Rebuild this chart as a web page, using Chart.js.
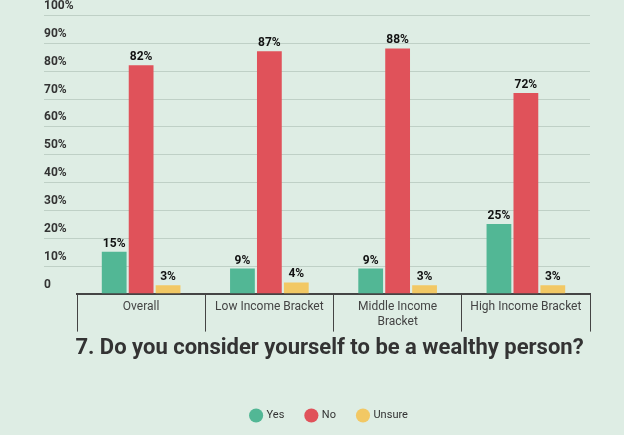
<!DOCTYPE html>
<html><head><meta charset="utf-8">
<script src="https://cdn.jsdelivr.net/npm/chart.js@4"></script>
<style>html,body{margin:0;padding:0;background:#deede4;}#w{width:624px;height:435px;}</style>
</head><body><div id="w"><canvas id="c"></canvas></div>
<script>
const categories = ["Overall", "Low Income Bracket", ["Middle Income", "Bracket"], "High Income Bracket"];
const yesValues = [15, 9, 9, 25];
const noValues = [82, 87, 88, 72];
const unsureValues = [3, 4, 3, 3];
const yTicks = [0,10,20,30,40,50,60,70,80,90,100];

const bgPlugin = {
  id:'bg',
  beforeDraw(chart){
    const {ctx, chartArea:a, scales:{y}} = chart;
    ctx.save();
    ctx.fillStyle='#deede4'; ctx.fillRect(0,0,chart.width,chart.height);
    ctx.font='bold 12px Roboto'; ctx.fillStyle='#333'; ctx.textBaseline='bottom'; ctx.textAlign='left';
    yTicks.forEach(v=>{
      const py=Math.round(y.getPixelForValue(v))+0.5;
      if(v>0){ctx.strokeStyle='#bfd0c6'; ctx.lineWidth=1; ctx.beginPath(); ctx.moveTo(44,py); ctx.lineTo(a.right,py); ctx.stroke();}
      ctx.fillText(v===0?'0':v+'%',44,py-4);
    });
    ctx.restore();
  },
  afterDatasetsDraw(chart){
    const {ctx, chartArea:a, scales:{x}}=chart;
    ctx.save(); ctx.font='bold 12px Roboto'; ctx.fillStyle='#111'; ctx.textAlign='center'; ctx.textBaseline='bottom';
    chart.data.datasets.forEach((ds,i)=>{
      chart.getDatasetMeta(i).data.forEach((bar,j)=>{ ctx.fillText(ds.data[j]+'%', bar.x, bar.y-2); });
    });
    ctx.font='12px Roboto'; ctx.fillStyle='#444'; ctx.textBaseline='top';
    categories.forEach((c,j)=>{
      const px=x.getPixelForValue(j);
      const lines=Array.isArray(c)?c:[c];
      lines.forEach((l,k)=>ctx.fillText(l,px,a.bottom+7+k*15));
    });
    ctx.restore();
  }
};

new Chart(document.getElementById('c'),{
  type:'bar',
  data:{labels:categories,datasets:[
    {label:'Yes',data:yesValues,backgroundColor:'#52b795'},
    {label:'No',data:noValues,backgroundColor:'#e0525a'},
    {label:'Unsure',data:unsureValues,backgroundColor:'#f2c864'}
  ]},
  options:{
    responsive:true, maintainAspectRatio:false, animation:false,
    layout:{padding:{left:69,right:34,top:15,bottom:4}},
    datasets:{bar:{categoryPercentage:0.63,barPercentage:0.92}},
    scales:{
      y:{min:0,max:100,ticks:{display:false,stepSize:10},grid:{display:false},border:{display:false}},
      x:{offset:true,
         grid:{offset:true,drawOnChartArea:false,tickLength:38,color:'#444',lineWidth:1},
         border:{display:true,color:'#444',width:2},
         ticks:{display:false}}
    },
    plugins:{
      title:{display:true,position:'bottom',weight:500,text:'7. Do you consider yourself to be a wealthy person?',color:'#333',font:{size:22,weight:'bold',family:'Roboto'},padding:{top:4,bottom:26}},
      legend:{position:'bottom',labels:{usePointStyle:true,pointStyle:'circle',boxWidth:10,boxHeight:10,padding:22,color:'#333',font:{size:11,family:'Roboto'}}},
      tooltip:{enabled:false}
    }
  },
  plugins:[bgPlugin]
});
</script></body></html>
